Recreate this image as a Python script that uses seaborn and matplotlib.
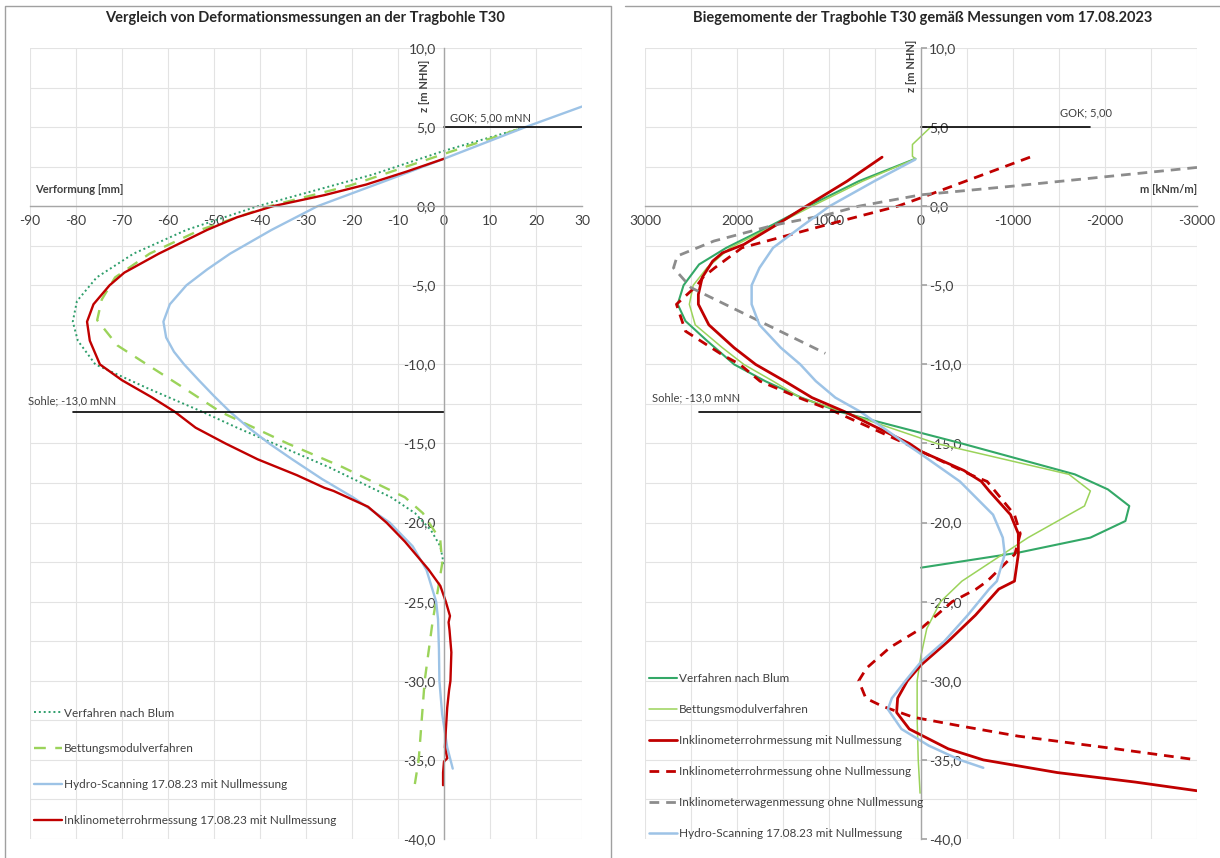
import numpy as np
import pandas as pd
import matplotlib
matplotlib.use("Agg")
import matplotlib.pyplot as plt
import seaborn as sns
from matplotlib.ticker import MultipleLocator, FuncFormatter
from matplotlib.lines import Line2D

sns.set_theme(style="white")
plt.rcParams["font.family"] = ["Lato", "DejaVu Sans"]

RED, BLUE, GREY = "#C00000", "#9DC3E6", "#8C8C8C"
GREEN_DK, GREEN_LT, GREEN_DOT = "#33A867", "#9BD35A", "#2E9E6B"

# ---------------- left panel: deformation [mm] vs z [m NHN] ----------------
blum_def_z = [4.9, 3.5, 2.0, 0.0, -1.5, -3.0, -4.5, -6.0, -7.3, -8.5, -10.0, -11.5, -13.0,
              -14.0, -15.0, -16.5, -18.4, -19.4, -20.5, -21.5, -22.7]
blum_def_mm = [16.5, 0.0, -15.5, -40.5, -56.0, -67.5, -75.5, -79.8, -80.7, -79.6, -75.8, -64.5,
               -52.5, -45.0, -37.0, -25.0, -11.5, -6.3, -2.8, -0.8, 0.0]

bett_def_z = [4.85, 3.5, 1.3, 0.0, -1.5, -3.0, -4.5, -5.9, -7.2, -8.8, -10.0, -11.5, -13.0,
              -15.0, -16.5, -18.4, -19.4, -21.1, -22.6, -24.2, -26.3, -30.0, -35.0, -37.0]
bett_def_mm = [16.0, 2.0, -20.5, -38.0, -53.0, -64.0, -71.5, -74.4, -75.4, -71.0, -64.6, -56.5,
               -48.6, -34.0, -22.0, -8.5, -4.6, -0.8, -0.4, -1.3, -2.5, -4.2, -5.5, -6.6]

hydro_def_z = [6.3, 5.0, 3.0, 1.7, 0.0, -1.5, -3.0, -4.0, -5.0, -6.2, -7.3, -8.3, -9.2, -10.0,
               -11.0, -12.0, -13.0, -14.0, -15.0, -16.0, -17.25, -18.4, -20.0, -21.5, -23.0,
               -25.0, -26.1, -28.0, -30.0, -32.1, -34.2, -35.55]
hydro_def_mm = [30.0, 17.7, 0.0, -11.8, -27.5, -37.5, -46.5, -51.5, -56.0, -59.6, -61.0, -60.4,
                -58.7, -56.5, -53.3, -50.0, -46.5, -42.5, -38.0, -33.0, -26.5, -19.8, -11.8,
                -6.8, -3.8, -1.7, -1.3, -1.1, -1.0, -0.4, 0.7, 1.9]

inkl_def_z = [3.0, 2.2, 1.37, 0.7, 0.0, -0.7, -1.5, -3.0, -4.2, -5.0, -6.2, -7.3, -8.5, -10.0,
              -11.0, -12.1, -13.0, -14.0, -15.0, -16.0, -17.0, -17.8, -18.0, -19.0, -20.0,
              -21.2, -22.95, -24.0, -25.0, -25.9, -26.3, -26.8, -28.2, -30.0, -30.6, -31.7,
              -33.1, -34.2, -34.9, -35.1, -35.8, -36.6]
inkl_def_mm = [0.0, -8.0, -16.9, -26.0, -37.2, -45.0, -51.5, -62.0, -69.5, -72.7, -76.2, -77.6,
               -77.0, -74.8, -70.0, -63.4, -58.5, -54.0, -47.5, -40.5, -32.0, -26.0, -24.0,
               -16.5, -12.5, -8.5, -3.4, -0.8, 0.4, 1.3, 1.0, 1.2, 1.6, 1.4, 1.1, 0.7, 0.4,
               0.2, 0.7, 0.0, -0.2, -0.2]

# ---------------- right panel: bending moment [kNm/m] vs z ----------------
blum_m_z = [3.0, 1.58, 0.0, -1.16, -2.63, -3.68, -5.0, -6.2, -7.26, -8.5, -10.0, -11.06, -12.1,
            -13.0, -15.0, -16.95, -17.9, -18.95, -19.9, -20.95, -21.9, -22.85]
blum_m = [60, 677, 1227, 1608, 2116, 2412, 2581, 2645, 2560, 2327, 2031, 1693, 1300, 880, -444,
          -1672, -2031, -2264, -2222, -1841, -1058, 0]

bett_m_z = [5.0, 3.9, 3.15, 3.0, 1.58, 0.0, -2.63, -3.9, -5.0, -6.2, -7.5, -8.95, -10.0, -11.06,
            -12.1, -13.0, -15.0, -16.95, -18.0, -18.95, -20.95, -22.0, -23.7, -25.0, -26.7,
            -28.4, -30.0, -32.4, -35.0, -37.1]
bett_m = [-105, 93, 93, 60, 635, 1185, 2074, 2327, 2476, 2518, 2454, 2158, 1926, 1608, 1312, 846,
          -169, -1608, -1841, -1777, -1164, -889, -445, -212, -63, 0, 42, 42, 30, 10]

inkl_m_z = [3.1, 1.58, 0.0, -1.16, -2.42, -2.95, -3.47, -4.5, -5.58, -6.2, -7.5, -8.95, -10.0,
            -11.06, -12.1, -13.0, -15.0, -15.5, -16.7, -17.4, -18.0, -19.5, -20.7, -22.0, -23.7,
            -24.2, -25.85, -27.5, -29.0, -30.0, -31.1, -32.0, -33.05, -34.3, -35.0, -35.8,
            -36.4, -36.95]
inkl_m = [423, 804, 1248, 1566, 1926, 2158, 2264, 2378, 2420, 2420, 2306, 2031, 1798, 1481, 1185,
          825, 127, 0, -465, -656, -741, -973, -1058, -1058, -1016, -846, -592, -296, 0, 148,
          254, 265, 127, -296, -677, -1481, -2327, -3000]

inkl_ohne_z = [3.1, 0.53, 0.0, -1.16, -2.63, -3.9, -4.5, -5.0, -6.2, -7.9, -9.4, -10.0, -11.06,
               -12.1, -13.0, -15.0, -15.5, -17.0, -17.4, -19.5, -20.7, -22.0, -22.5, -23.7,
               -24.2, -25.0, -26.7, -27.9, -29.2, -30.0, -31.1, -31.6, -32.3, -32.85, -33.5,
               -34.3, -35.0]
inkl_ohne_m = [-1185, 0, 254, 1016, 1947, 2243, 2370, 2433, 2658, 2560, 2158, 1968, 1750, 1330,
               931, 169, 0, -550, -719, -1016, -1079, -1020, -930, -720, -600, -339, 0, 339,
               592, 677, 600, 423, 85, -423, -1058, -2116, -3000]

wagen_z = [2.45, 1.27, 0.72, 0.0, -0.53, -1.2, -2.2, -3.15, -3.9, -5.15, -9.3]
wagen_m = [-3000, -1000, 0, 677, 1016, 1600, 2250, 2650, 2690, 2500, 1040]

hydro_m_z = [2.95, 1.58, 0.0, -1.16, -2.63, -3.9, -5.0, -6.2, -7.5, -8.95, -10.0, -11.06, -12.1,
             -13.0, -15.0, -15.5, -17.4, -19.5, -20.95, -22.0, -23.7, -24.2, -25.85, -27.5,
             -28.8, -30.0, -31.1, -31.8, -33.05, -34.1, -35.0, -35.5]
hydro_m = [63, 508, 994, 1270, 1608, 1756, 1841, 1841, 1756, 1523, 1312, 1143, 931, 656, 169, 42,
           -423, -783, -889, -910, -825, -741, -508, -254, 0, 169, 317, 360, 212, -85, -423, -677]

W, H = 1220, 858
fig = plt.figure(figsize=(W / 100, H / 100), dpi=100)
axL = fig.add_axes([30 / W, 1 - 839 / H, 552 / W, 791 / H])
axR = fig.add_axes([645 / W, 1 - 839 / H, 552 / W, 791 / H])


def line(ax, x, y, **kw):
    df = pd.DataFrame({"x": x, "y": y})
    sns.lineplot(data=df, x="x", y="y", sort=False, estimator=None, ax=ax, **kw)


comma = FuncFormatter(lambda v, p: f"{v:.1f}".replace(".", ","))
intf = FuncFormatter(lambda v, p: f"{v:.0f}")


def style(ax, xmaj, xmin, yside="left"):
    ax.set_ylim(-40, 10)
    ax.xaxis.set_major_locator(MultipleLocator(xmaj))
    ax.xaxis.set_minor_locator(MultipleLocator(xmin))
    ax.xaxis.set_major_formatter(intf)
    ax.yaxis.set_major_locator(MultipleLocator(5))
    ax.yaxis.set_minor_locator(MultipleLocator(2.5))
    ax.yaxis.set_major_formatter(comma)
    ax.grid(True, which="both", color="#E3E3E3", lw=0.8)
    ax.set_axisbelow(True)
    other = "right" if yside == "left" else "left"
    ax.spines["top"].set_visible(False)
    ax.spines[other].set_visible(False)
    ax.spines[yside].set_position(("data", 0))
    ax.spines["bottom"].set_position(("data", 0))
    if yside == "right":
        ax.yaxis.tick_right()
    for s in [yside, "bottom"]:
        ax.spines[s].set_color("#A6A6A6")
        ax.spines[s].set_linewidth(1.0)
    ax.tick_params(which="major", length=4, color="#A6A6A6", labelsize=10,
                   labelcolor="#404040", direction="out", pad=2)
    ax.tick_params(which="minor", length=0)
    ax.set_xlabel("")
    ax.set_ylabel("")


# ---------------- left ----------------
line(axL, blum_def_mm, blum_def_z, color=GREEN_DOT, lw=1.4, linestyle=(0, (1, 1.5)),
     label="Verfahren nach Blum")
line(axL, bett_def_mm, bett_def_z, color=GREEN_LT, lw=1.7, linestyle=(0, (5, 4)),
     label="Bettungsmodulverfahren")
line(axL, hydro_def_mm, hydro_def_z, color=BLUE, lw=1.7, label="Hydro-Scanning 17.08.23 mit Nullmessung")
line(axL, inkl_def_mm, inkl_def_z, color=RED, lw=1.7,
     label="Inklinometerrohrmessung 17.08.23 mit Nullmessung")
axL.set_xlim(-90, 30)
style(axL, 10, 10, "left")
axL.plot([0, 30], [5, 5], color="black", lw=1.2)
axL.plot([-80.7, 0], [-13, -13], color="black", lw=1.2)
axL.text(1.3, 5.6, "GOK; 5,00 mNN", fontsize=8, color="#404040", va="center")
axL.text(-90.5, -12.3, "Sohle; -13,0 mNN", fontsize=8, color="#404040", va="center")
axL.text(-89, 1.05, "Verformung [mm]", fontsize=8, fontweight="bold", color="#404040", va="center")
axL.text(-4.2, 7.6, "z [m NHN]", fontsize=8, fontweight="bold", color="#404040",
         rotation=90, ha="center", va="center")
axL.legend(loc="lower left", bbox_to_anchor=(-0.012, 0.003), frameon=False, fontsize=8.5,
           handlelength=2.4, handletextpad=0.1, labelspacing=2.1, labelcolor="#404040")

# ---------------- right ----------------
line(axR, blum_m, blum_m_z, color=GREEN_DK, lw=1.5, label="Verfahren nach Blum")
line(axR, bett_m, bett_m_z, color=GREEN_LT, lw=1.1, label="Bettungsmodulverfahren")
line(axR, inkl_m, inkl_m_z, color=RED, lw=2.0, label="Inklinometerrohrmessung mit Nullmessung")
line(axR, inkl_ohne_m, inkl_ohne_z, color=RED, lw=2.0, linestyle=(0, (3.5, 2.5)),
     label="Inklinometerrohrmessung ohne Nullmessung")
line(axR, wagen_m, wagen_z, color=GREY, lw=2.0, linestyle=(0, (3.5, 2.5)),
     label="Inklinometerwagenmessung ohne Nullmessung")
line(axR, hydro_m, hydro_m_z, color=BLUE, lw=1.8, label="Hydro-Scanning 17.08.23 mit Nullmessung")
axR.set_xlim(3000, -3000)
style(axR, 1000, 500, "right")
axR.plot([0, -1840], [5, 5], color="black", lw=1.2)
axR.plot([2413, 0], [-13, -13], color="black", lw=1.2)
axR.text(-1510, 5.9, "GOK; 5,00", fontsize=8, color="#404040", va="center")
axR.text(2924, -12.15, "Sohle; -13,0 mNN", fontsize=8, color="#404040", va="center")
axR.text(-3000, 1.05, "m [kNm/m]", fontsize=8, fontweight="bold", color="#404040",
         ha="right", va="center")
axR.text(100, 8.9, "z [m NHN]", fontsize=8, fontweight="bold", color="#404040",
         rotation=90, ha="center", va="center")
axR.legend(loc="lower left", bbox_to_anchor=(-0.012, -0.014), frameon=False, fontsize=8.5,
           handlelength=2.4, handletextpad=0.1, labelspacing=1.7, labelcolor="#404040")

# titles and panel frames
fig.text(305 / W, 1 - 18 / H, "Vergleich von Deformationsmessungen an der Tragbohle T30",
         ha="center", va="center", fontsize=10.5, fontweight="bold", color="#262626")
fig.text(923 / W, 1 - 18 / H, "Biegemomente der Tragbohle T30 gemäß Messungen vom 17.08.2023",
         ha="center", va="center", fontsize=10.5, fontweight="bold", color="#262626")
fc = "#A0A0A0"
fig.add_artist(Line2D([5 / W, 5 / W, 611 / W, 611 / W], [0, 1 - 6 / H, 1 - 6 / H, 0],
                      transform=fig.transFigure, color=fc, lw=1.0))
fig.add_artist(Line2D([625 / W, 1], [1 - 6 / H, 1 - 6 / H], transform=fig.transFigure,
                      color=fc, lw=1.0))

fig.savefig("out.png", dpi=100)
